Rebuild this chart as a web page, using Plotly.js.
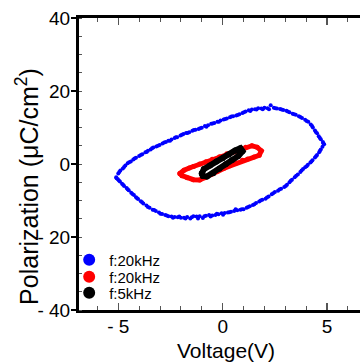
<!DOCTYPE html>
<html><head><meta charset="utf-8">
<script src="https://cdn.plot.ly/plotly-3.0.1.min.js"></script>
<style>
html,body{margin:0;padding:0;background:#fff;overflow:hidden;scrollbar-width:none}
::-webkit-scrollbar{width:0;height:0;display:none}
#chart{width:360px;height:362px;overflow:hidden}
</style>
</head><body><div id="chart"></div>
<script>
// Blue loop (f:20kHz, large amplitude) - two interleaved rows of readings
const blueV = [-5.10,-5.00,-4.90,-4.78,-4.66,-4.55,-4.40,-4.28,-4.15,-4.00,-3.85,-3.70,-3.58,-3.45,-3.32,-3.18,-3.02,-2.88,-2.72,-2.60,-2.45,-2.30,-2.18,-2.02,-1.88,-1.75,-1.60,-1.45,-1.30,-1.15,-1.00,-0.85,-0.70,-0.55,-0.40,-0.25,-0.10,0.05,0.20,0.35,0.50,0.65,0.80,0.95,1.10,1.25,1.40,1.55,1.70,1.85,2.00,2.15,2.30,2.45,2.60,2.75,2.90,3.05,3.20,3.35,3.50,3.65,3.80,3.95,4.10,4.22,4.32,4.42,4.52,4.60,4.70,4.80,4.86,4.78,4.70,4.62,4.52,4.42,4.30,4.20,4.08,3.95,3.85,3.72,3.60,3.45,3.32,3.20,3.08,2.95,2.80,2.65,2.50,2.35,2.20,2.05,1.90,1.75,1.60,1.45,1.30,1.15,1.00,0.85,0.70,0.55,0.40,0.25,0.10,-0.05,-0.20,-0.35,-0.50,-0.65,-0.80,-0.95,-1.10,-1.25,-1.40,-1.55,-1.70,-1.85,-2.00,-2.15,-2.30,-2.45,-2.60,-2.75,-2.90,-3.05,-3.20,-3.35,-3.50,-3.65,-3.80,-3.92,-4.05,-4.15,-4.25,-4.38,-4.50,-4.60,-4.72,-4.82,-4.92,-5.02];
const blueP = [-3.6,-2.6,-1.8,-1.2,-0.4,0.2,0.7,1.2,1.7,2.2,2.7,3.2,3.6,4.0,4.5,4.8,5.2,5.6,6.0,6.4,6.7,7.1,7.3,7.8,8.2,8.5,8.7,9.1,9.4,9.6,9.9,10.4,10.6,11.0,11.2,11.6,11.9,12.2,12.5,12.8,13.1,13.3,13.6,14.0,14.4,14.7,14.9,15.0,15.3,15.2,15.4,15.3,16.1,15.4,15.2,15.1,14.8,14.6,14.2,13.8,13.5,13.1,12.6,12.1,11.6,10.8,10.0,9.2,8.4,7.6,6.8,6.0,5.4,4.7,4.0,3.2,2.5,1.8,1.0,0.4,-0.2,-0.9,-1.4,-2.2,-2.9,-3.6,-4.3,-5.0,-5.7,-6.3,-6.8,-7.3,-7.7,-8.3,-8.9,-9.5,-9.8,-10.3,-10.7,-11.2,-11.6,-12.0,-12.4,-12.5,-12.7,-12.9,-13.1,-13.3,-13.4,-13.5,-13.8,-14.0,-14.1,-14.0,-14.2,-14.8,-14.3,-14.4,-14.3,-14.9,-14.5,-14.7,-14.7,-14.6,-14.5,-14.4,-14.3,-14.0,-13.7,-13.3,-12.9,-12.5,-12.0,-11.4,-10.8,-10.2,-9.6,-9.1,-8.5,-7.9,-7.2,-6.6,-6.0,-5.4,-4.8,-4.2];
const blueV2 = [-4.95,-4.72,-4.48,-4.22,-3.92,-3.64,-3.38,-3.10,-2.80,-2.52,-2.24,-1.95,-1.68,-1.38,-1.08,-0.78,-0.48,-0.18,0.12,0.42,0.72,1.02,1.32,1.62,1.92,2.22,2.52,2.82,3.12,3.42,3.72,4.02,4.28,4.46,4.65,4.82,4.66,4.47,4.25,4.02,3.78,3.52,3.26,3.02,2.72,2.42,2.12,1.82,1.52,1.22,0.92,0.62,0.32,0.02,-0.28,-0.58,-0.88,-1.18,-1.48,-1.78,-2.08,-2.38,-2.68,-2.98,-3.28,-3.58,-3.86,-4.10,-4.32,-4.55,-4.77,-4.97,-5.08];
const blueP2 = [-2.2,-0.8,0.5,1.5,2.5,3.3,4.3,5.0,5.9,6.4,7.3,8.0,8.5,9.3,9.8,10.2,11.1,11.6,12.3,13.0,13.4,14.2,14.5,14.9,15.0,15.0,15.3,14.9,14.4,13.6,12.9,11.8,10.4,8.8,7.2,5.7,3.6,2.1,0.7,-0.6,-1.8,-3.2,-4.6,-6.0,-7.0,-8.0,-9.2,-10.0,-11.0,-11.8,-12.4,-12.4,-13.2,-13.9,-13.6,-14.4,-14.3,-14.9,-14.6,-14.9,-14.4,-14.7,-14.1,-13.6,-12.6,-11.8,-10.5,-9.4,-8.2,-6.9,-5.7,-4.5,-3.9];

// Red loop (f:20kHz, small amplitude)
const redV = [-2.05,-1.85,-1.60,-1.40,-1.10,-0.80,-0.50,-0.15,0.20,0.50,0.80,1.10,1.40,1.65,1.85,1.75,1.50,1.20,0.95,0.65,0.35,0.05,-0.25,-0.55,-0.85,-1.10,-1.40,-1.70,-1.95,-2.05];
const redP = [-2.6,-1.7,-1.1,-0.7,0.0,0.6,1.3,2.0,2.8,3.4,4.0,4.6,5.0,4.6,3.6,2.4,1.9,1.4,1.0,0.3,-0.5,-1.2,-2.0,-2.9,-3.8,-4.4,-4.3,-3.8,-3.2,-2.6];

// Black loop (f:5kHz)
const blackV = [-1.00,-0.90,-0.60,-0.30,0.00,0.30,0.60,0.85,0.95,0.75,0.45,0.15,-0.15,-0.45,-0.75,-0.95,-1.00];
const blackP = [-2.6,-1.4,-0.4,0.7,1.6,2.6,3.7,4.3,3.5,2.2,1.1,-0.1,-1.3,-2.5,-3.4,-3.3,-2.6];

const names = ['f:20kHz','f:20kHz','f:5kHz'];
const xTickVals = [-5,0,5];
const xTickText = ['- 5','0','5'];
const yTickVals = [-40,-20,0,20,40];
const yTickText = ['- 40','- 20','0','20','40'];
const xTitle = 'Voltage(V)';
const yTitle = 'Polarization (μC/cm<sup>2</sup>)';

const F = 'Arial, "Liberation Sans", sans-serif';
const traces = [
  {x: blueV.concat(blueV2), y: blueP.concat(blueP2), mode:'markers', type:'scatter', name:names[0], legend:'legend',
   marker:{color:'#0000ff', size:4}},
  {x: redV, y: redP, mode:'lines', type:'scatter', showlegend:false,
   line:{color:'#ff0000', width:5}},
  {x: redV, y: redP, mode:'markers', type:'scatter', name:names[1], legend:'legend2',
   marker:{color:'#ff0000', size:5}},
  {x: blackV, y: blackP, mode:'lines', type:'scatter', showlegend:false,
   line:{color:'#000000', width:6}},
  {x: blackV, y: blackP, mode:'markers', type:'scatter', name:names[2], legend:'legend3',
   marker:{color:'#000000', size:6}}
];
const legBase = {x:-0.034, xanchor:'left', yanchor:'middle', bgcolor:'rgba(0,0,0,0)',
  font:{family:F, size:15, color:'#000'}, itemsizing:'constant', itemwidth:30};
const layout = {
  width:368, height:362,
  margin:{l:79, r:0, t:18, b:52},
  paper_bgcolor:'#fff', plot_bgcolor:'#fff',
  showlegend:true,
  legend: Object.assign({}, legBase, {y:0.171}),
  legend2: Object.assign({}, legBase, {y:0.113}),
  legend3: Object.assign({}, legBase, {y:0.058}),
  xaxis:{range:[-6.88,6.96], showgrid:false, zeroline:false,
    showline:true, linecolor:'#000', linewidth:3, mirror:'ticks',
    tickmode:'array', tickvals:xTickVals, ticktext:xTickText,
    ticks:'inside', ticklen:7, tickwidth:1.5, tickcolor:'#555', ticklabelstandoff:-3,
    tickfont:{family:F, size:19, color:'#000'},
    minor:{dtick:1, ticks:'inside', ticklen:4, tickwidth:1, tickcolor:'#555'}},
  yaxis:{range:[-40,40], showgrid:false, zeroline:false,
    showline:true, linecolor:'#000', linewidth:3, mirror:false,
    tickmode:'array', tickvals:yTickVals, ticktext:yTickText,
    ticks:'outside', ticklen:5, tickwidth:1.5, tickcolor:'#000', ticklabelstandoff:-3,
    tickfont:{family:F, size:19, color:'#000'},
    minor:{dtick:5, ticks:'inside', ticklen:3, tickwidth:1, tickcolor:'#555'}},
  annotations:[
    {text:xTitle, xref:'paper', yref:'paper', x:0.509, y:-0.140, xanchor:'center', yanchor:'middle',
     showarrow:false, font:{family:F, size:21, color:'#000'}},
    {text:yTitle, xref:'paper', yref:'paper', x:-0.180, y:0.425, xanchor:'center', yanchor:'middle',
     textangle:-90, showarrow:false, font:{family:F, size:25, color:'#000'}}
  ]
};
Plotly.newPlot('chart', traces, layout, {displayModeBar:false, staticPlot:true});
</script></body></html>
